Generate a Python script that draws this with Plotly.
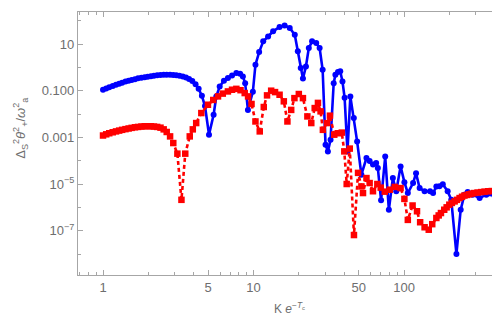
import plotly.graph_objects as go
import numpy as np

# ---- data ----
blue_K = [1.0, 1.05, 1.1, 1.16, 1.22, 1.28, 1.34, 1.41, 1.48, 1.55, 1.63, 1.71, 1.8, 1.89, 1.98,
          2.08, 2.18, 2.29, 2.41, 2.53, 2.65, 2.79, 2.93, 3.07, 3.22, 3.39, 3.56, 3.73, 3.92, 4.12,
          4.32, 4.54, 4.76, 5.06, 5.43, 5.66, 5.96, 6.36, 6.76, 7.2, 7.69, 8.15, 8.5, 8.8, 9.18,
          9.9, 10.3, 10.9, 11.6, 12.5, 13.5, 14.9, 16.1, 17.4, 18.8, 19.7, 20.6, 21.3, 22.3, 23.3,
          24.5, 26.1, 27.5, 28.8, 30.1, 31.2, 32.5, 34.1, 35.0, 36.4, 37.7, 39.0, 40.3, 42.1, 44.0,
          46.4, 48.8, 52.1, 56.3, 59.1, 62.2, 65.3, 67.0, 70.4, 75.0, 79.3, 84.3, 88.8, 94.9,
          100.6, 106, 114.9, 120.2, 127, 137, 149, 156, 164, 172, 181, 195, 206, 223, 238, 252,
          265, 286, 318, 352, 400]
blue_V = [0.11, 0.125, 0.14, 0.16, 0.18, 0.20, 0.22, 0.25, 0.27, 0.29, 0.31, 0.34, 0.36, 0.38, 0.40,
          0.42, 0.44, 0.46, 0.47, 0.48, 0.48, 0.48, 0.47, 0.46, 0.44, 0.41, 0.37, 0.32, 0.26, 0.19,
          0.12, 0.06, 0.022, 0.0013, 0.0093, 0.057, 0.15, 0.27, 0.35, 0.45, 0.57, 0.53, 0.41, 0.21, 0.015,
          0.09, 1.3, 4.5, 13, 21, 35, 54, 63, 49, 25, 4.9, 0.94, 0.33, 1.1, 6.7,
          13, 11, 6.7, 0.79, 4.8e-4, 2.5e-4, 7.9e-4, 0.21, 0.48, 0.63, 0.68, 0.25, 0.05, 2.5e-4, 0.057,
          0.0068, 6.7e-4, 2.5e-5, 1.3e-4, 9.6e-5, 6.8e-5, 7.9e-5, 4.9e-5, 2.0e-6, 1.5e-4, 7.9e-7, 1.8e-5, 4.9e-6, 5.7e-5,
          1.2e-5, 4.1e-6, 1.1e-5, 2.9e-5, 6.7e-6, 4.9e-6, 4.9e-6, 4.1e-6, 7.9e-6, 8.0e-6, 9.7e-6, 4.9e-6, 2.1e-6, 1.0e-8, 7.9e-7, 3.5e-6,
          4.5e-6, 3.5e-6, 2.5e-6, 3.5e-6, 3.2e-6]

red_K = [1.0, 1.05, 1.1, 1.16, 1.22, 1.28, 1.34, 1.41, 1.48, 1.55, 1.63, 1.71, 1.8, 1.89, 1.98,
         2.08, 2.18, 2.29, 2.41, 2.53, 2.65, 2.79, 2.93, 3.12, 3.32, 3.52, 3.77, 3.95, 4.16, 4.5,
         4.98, 5.4, 5.81, 6.25, 6.76, 7.2, 7.69, 8.2, 8.74, 9.2, 9.7, 10.3, 11.0, 11.7, 12.3,
         13.1, 13.9, 14.9, 15.9, 16.8, 17.8, 18.7, 20.0, 21.3, 22.8, 24.2, 25.5, 26.8, 27.9, 28.9,
         30.8, 32.2, 34.4, 36.4, 38.6, 40.1, 41.6, 43.6, 46.5, 49.5, 52.1, 53.4, 56.3, 59.1, 62.2,
         66.5, 70.0, 74.5, 80.4, 86.8, 94.9, 100.6, 106, 114, 122, 128, 137, 146, 154, 164,
         170, 176, 185, 192, 200, 208, 217, 225, 234, 243, 252, 262, 271, 281, 292, 308, 325,
         343, 362, 383, 405]
red_V = [1.2e-3, 1.35e-3, 1.5e-3, 1.65e-3, 1.8e-3, 1.95e-3, 2.1e-3, 2.25e-3, 2.4e-3, 2.55e-3, 2.7e-3, 2.8e-3, 2.9e-3, 3.0e-3, 3.0e-3,
         3.0e-3, 2.9e-3, 2.8e-3, 2.6e-3, 2.2e-3, 1.7e-3, 1.1e-3, 5.7e-4, 2.0e-4, 2.1e-6, 2.0e-4, 1.1e-3, 2.2e-3, 4.1e-3, 0.011,
         0.025, 0.04, 0.057, 0.075, 0.093, 0.11, 0.12, 0.105, 0.079, 0.057, 0.027, 4.8e-3, 1.8e-3, 0.02, 0.063,
         0.1, 0.087, 0.067, 0.035, 4.8e-3, 0.015, 0.048, 0.072, 0.048, 7.9e-3, 4.1e-3, 0.018, 0.03, 0.013, 2.1e-3,
         4.1e-3, 8.5e-3, 1.3e-3, 1.5e-3, 1.6e-3, 2.5e-4, 1.0e-5, 3.3e-4, 6.5e-8, 3.0e-5, 7.9e-6, 4.1e-6, 1.8e-5, 1.1e-5, 4.9e-6,
         1.0e-5, 7.0e-6, 4.7e-6, 5.7e-6, 7.5e-6, 6.7e-6, 2.3e-6, 2.9e-7, 1.2e-6, 6.8e-7, 2.3e-7, 1.4e-7, 1.1e-7, 1.9e-7, 3.5e-7,
         4.5e-7, 5.7e-7, 7.9e-7, 1.0e-6, 1.3e-6, 1.55e-6, 1.8e-6, 2.1e-6, 2.5e-6, 2.85e-6, 3.2e-6, 3.4e-6, 3.6e-6, 3.85e-6, 4.1e-6, 4.3e-6, 4.5e-6,
         4.7e-6, 4.9e-6, 5.0e-6, 5.1e-6]

x_major = [1, 5, 10, 50, 100]
x_major_text = ["1", "5", "10", "50", "100"]
x_minor = [0.7, 0.8, 0.9, 2, 3, 4, 6, 7, 8, 9, 20, 30, 40, 60, 70, 80, 90, 200, 300, 400]
y_major = [1e1, 1e-1, 1e-3, 1e-5, 1e-7]
y_major_text = ["10", "0.100", "0.001", "10<sup>\u22125</sup>", "10<sup>\u22127</sup>"]
y_minor = [1e2, 1e0, 1e-2, 1e-4, 1e-6, 1e-8]

FRAME = "#a6a6a6"
TXT = "#6e6e6e"
FONT = "Liberation Sans, Arial, sans-serif"

fig = go.Figure()
fig.add_trace(go.Scatter(x=blue_K, y=blue_V, mode="lines+markers",
                         line=dict(color="#0000ff", width=2.6),
                         marker=dict(color="#0000ff", size=6, symbol="circle"),
                         showlegend=False))
fig.add_trace(go.Scatter(x=red_K, y=red_V, mode="lines+markers",
                         line=dict(color="#ff0000", width=2.6, dash="4px,3px"),
                         marker=dict(color="#ff0000", size=6.5, symbol="square"),
                         showlegend=False))

axis_common = dict(type="log", showgrid=False, zeroline=False, showline=True,
                   linecolor=FRAME, linewidth=1.3, mirror="allticks", automargin=False,
                   ticks="inside", tickcolor=FRAME, tickwidth=1,
                   tickfont=dict(family=FONT, size=13, color=TXT))

fig.update_layout(
    width=500, height=317,
    margin=dict(l=70, r=7, t=4, b=50.3, autoexpand=False),
    paper_bgcolor="white", plot_bgcolor="white",
    xaxis=dict(axis_common, range=[np.log10(0.682), np.log10(441)],
               tickmode="array", tickvals=x_major, ticktext=x_major_text, ticklen=5,
               minor=dict(tickmode="array", tickvals=x_minor, ticks="inside", ticklen=3,
                          tickcolor=FRAME, tickwidth=1)),
    yaxis=dict(axis_common, range=[-8.9, 2.373],
               tickmode="array", tickvals=y_major, ticktext=y_major_text, ticklen=5,
               minor=dict(tickmode="array", tickvals=y_minor, ticks="inside", ticklen=3,
                          tickcolor=FRAME, tickwidth=1)),
    annotations=[
        dict(text="K <i>e</i><sup>\u2212<i>T</i><sub>c</sub></sup>", xref="paper", yref="paper",
             x=0.5, y=-0.125, xanchor="center", yanchor="middle", showarrow=False,
             font=dict(family=FONT, size=12, color=TXT)),
        dict(text="\u0394<sub>S</sub><sup>2</sup><i>\u03b8</i><sup>2</sup><sub>+</sub>/<i>\u03c9</i><sup>2</sup><sub>a</sub>",
             xref="paper", yref="paper", x=-0.137, y=0.56, xanchor="center", yanchor="middle",
             textangle=-90, showarrow=False,
             font=dict(family=FONT, size=13, color=TXT)),
    ],
)

fig.write_html("out.html")
